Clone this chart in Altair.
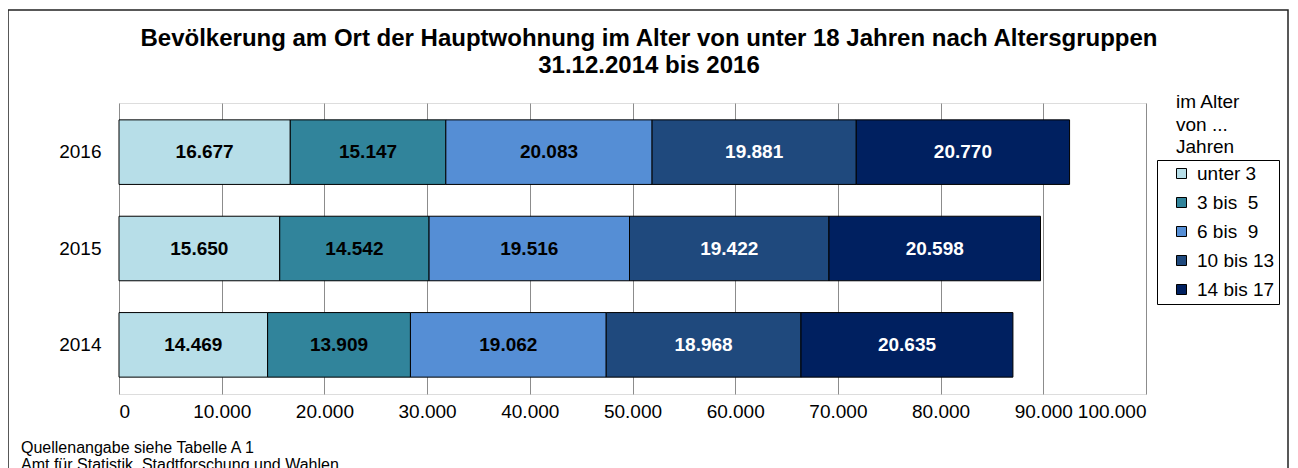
import altair as alt
import pandas as pd

FONT = "Liberation Sans"

years = ["2014", "2015", "2016"]
groups = ["unter 3", "3 bis 5", "6 bis 9", "10 bis 13", "14 bis 17"]
colors = ["#B7DEE8", "#31849B", "#558ED5", "#1F497D", "#002060"]

v_unter3 = [14469, 15650, 16677]
v_3_5 = [13909, 14542, 15147]
v_6_9 = [19062, 19516, 20083]
v_10_13 = [18968, 19422, 19881]
v_14_17 = [20635, 20598, 20770]

x_ticks = [0, 10000, 20000, 30000, 40000, 50000, 60000, 70000, 80000, 90000, 100000]

title_lines = ["Bevölkerung am Ort der Hauptwohnung im Alter von unter 18 Jahren nach Altersgruppen",
               "31.12.2014 bis 2016"]
legend_title_lines = ["im Alter", "von ...", "Jahren"]
footer_lines = ["Quellenangabe siehe Tabelle A 1", "Amt für Statistik, Stadtforschung und Wahlen"]

series = [v_unter3, v_3_5, v_6_9, v_10_13, v_14_17]
rows = []
for gi, (g, vals) in enumerate(zip(groups, series)):
    for y, v in zip(years, vals):
        rows.append({"year": y, "group": g, "order": gi, "value": v})
df = pd.DataFrame(rows)

NB = "\u00a0"
legend_label_expr = (
    f"datum.label == 'unter 3' ? '{NB}{NB}unter 3' : "
    f"datum.label == '3 bis 5' ? '{NB}{NB}3 bis{NB}{NB}5' : "
    f"datum.label == '6 bis 9' ? '{NB}{NB}6 bis{NB}{NB}9' : "
    f"datum.label + '{NB}{NB}'"
)
num_fmt = "replace(format(datum.value, ','), ',', '.')"

x_scale = alt.Scale(domain=[0, 100000], nice=False)
y_scale = alt.Scale(paddingInner=0.33, paddingOuter=0.175)

base = alt.Chart(df)

bars = base.mark_bar(stroke="black", strokeWidth=1).encode(
    x=alt.X("value:Q", stack="zero", scale=x_scale,
            axis=alt.Axis(values=x_ticks, labelExpr=num_fmt, title=None, ticks=False,
                          domain=False, grid=True, gridColor="#8c8c8c", gridWidth=1,
                          labelFontSize=19, labelPadding=8)),
    y=alt.Y("year:N", sort="descending", scale=y_scale,
            axis=alt.Axis(title=None, ticks=False, domain=False, grid=False,
                          labelFontSize=19, labelPadding=18)),
    color=alt.Color("group:N", sort=groups,
                    scale=alt.Scale(domain=groups, range=colors),
                    legend=alt.Legend(orient="none", legendX=1038, legendY=57, title=None,
                                      labelExpr=legend_label_expr, labelFontSize=19,
                                      labelFont=FONT, labelColor="black",
                                      symbolType="square", symbolSize=100,
                                      symbolStrokeColor="black", symbolStrokeWidth=1,
                                      symbolOffset=11, labelOffset=6,
                                      rowPadding=9, padding=4,
                                      strokeColor="black", fillColor="white",
                                      cornerRadius=0)),
    order=alt.Order("order:Q", sort="ascending"),
)

labels = base.transform_stack(
    stack="value", groupby=["year"], as_=["x0", "x1"],
    sort=[alt.SortField("order", order="ascending")]
).transform_calculate(
    mid="(datum.x0 + datum.x1) / 2",
    label=num_fmt,
).mark_text(fontSize=19, fontWeight="bold", font=FONT).encode(
    x=alt.X("mid:Q", scale=x_scale),
    y=alt.Y("year:N", sort="descending", scale=y_scale),
    text="label:N",
    color=alt.condition("datum.order >= 3", alt.value("white"), alt.value("black")),
)

one = pd.DataFrame({"a": [0]})

border = alt.Chart(one).mark_rect(fillOpacity=0, stroke="#222", strokeWidth=1.5, clip=False).encode(
    x=alt.value(-111), x2=alt.value(1169), y=alt.value(-93), y2=alt.value(420)
)

title1 = alt.Chart(one).mark_text(text=title_lines[0], fontSize=24, fontWeight="bold", font=FONT,
                                  align="center", baseline="alphabetic", color="black").encode(
    x=alt.value(530), y=alt.value(-57))
title2 = alt.Chart(one).mark_text(text=title_lines[1], fontSize=24, fontWeight="bold", font=FONT,
                                  align="center", baseline="alphabetic", color="black").encode(
    x=alt.value(530), y=alt.value(-30))

lt = [alt.Chart(one).mark_text(text=t, fontSize=19, font=FONT, align="left",
                               baseline="alphabetic", color="black").encode(
    x=alt.value(1057), y=alt.value(yy))
      for t, yy in zip(legend_title_lines, [5, 27.5, 50])]

ft = [alt.Chart(one).mark_text(text=t, fontSize=16, font=FONT, align="left",
                               baseline="alphabetic", color="black").encode(
    x=alt.value(-98), y=alt.value(yy))
      for t, yy in zip(footer_lines, [350, 367])]

chart = alt.layer(border, bars, labels, title1, title2, *lt, *ft).properties(
    width=1027, height=291,
    autosize=alt.AutoSizeParams(type="none"),
    padding={"left": 111, "top": 95, "right": 144, "bottom": 74},
).configure_view(
    fill="#FFFFCC", stroke="#555555", strokeWidth=1
).configure_axis(
    labelFont=FONT, labelColor="black"
).configure(background="white")

chart.save("out.html", embed_options={"renderer": "svg", "actions": False})
